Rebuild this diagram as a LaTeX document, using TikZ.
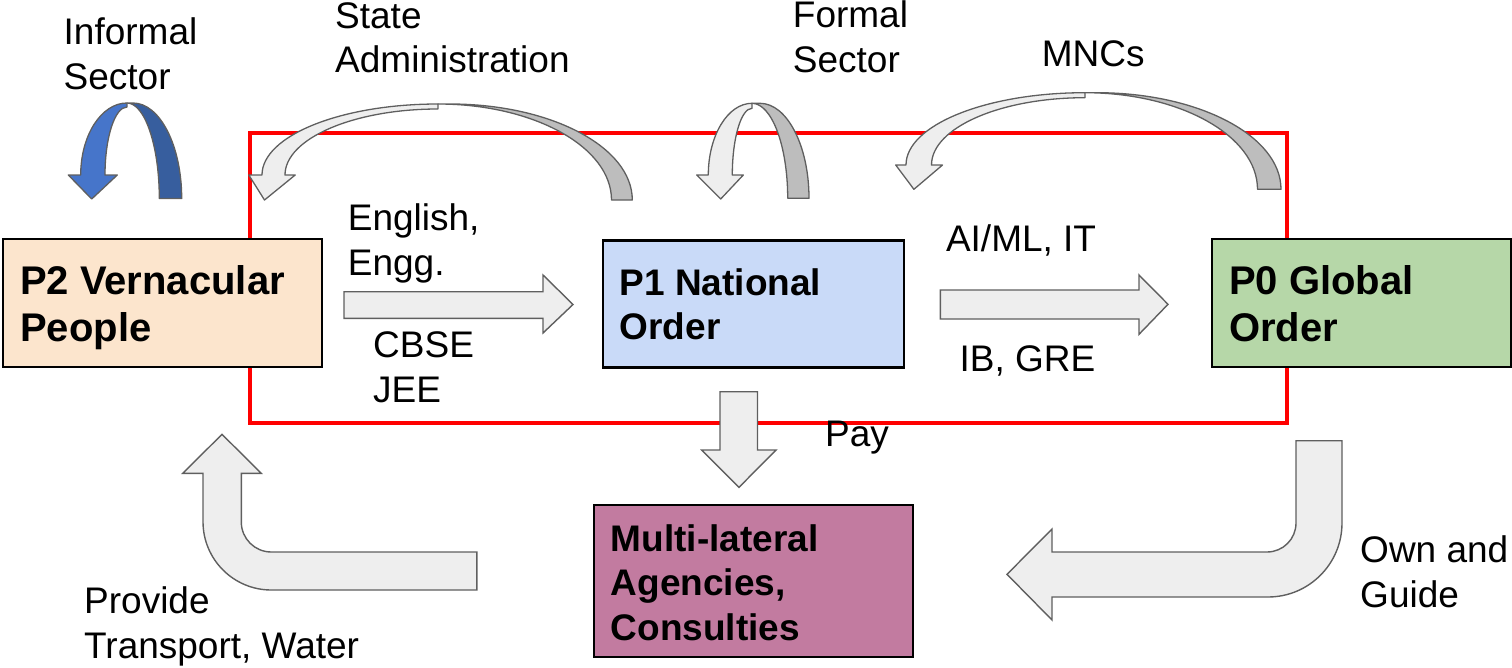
\documentclass[tikz,border=0pt]{standalone}
\usepackage{fontspec}
\setmainfont{Liberation Sans}

\definecolor{peach}{HTML}{FCE5CD}
\definecolor{paleblue}{HTML}{C9DAF8}
\definecolor{palegreen}{HTML}{B6D7A8}
\definecolor{mauve}{HTML}{C27BA0}
\definecolor{arrowfill}{HTML}{EEEEEE}
\definecolor{arrowback}{HTML}{BDBDBD}
\definecolor{arrowline}{HTML}{5F5F5F}
\definecolor{bluefront}{HTML}{4675CA}
\definecolor{blueback}{HTML}{375E9E}

% parameters of a curved ribbon arrow (front band with head, back band)
\pgfkeys{/ribbon/.is family}
\pgfkeys{/ribbon/.cd,
  ax/.store in=\rbAx, ay/.store in=\rbAy, dw/.store in=\rbDw, t/.store in=\rbT,
  ro/.store in=\rbRo, ri/.store in=\rbRi, by/.store in=\rbBy,
  lo/.store in=\rbLo, li/.store in=\rbLi, hb/.store in=\rbHb,
  hl/.store in=\rbHl, hr/.store in=\rbHr, tx/.store in=\rbTx, ty/.store in=\rbTy}

\newcommand{\ribbonarrow}[3]{%
  \pgfkeys{/ribbon/.cd,#3}%
  \pgfmathsetmacro\rbK{0.5523}%
  % back band: from the flat foot up to the top
  \draw[ribbonedge, fill=#1]
    (\rbRo,\rbBy) .. controls (\rbRo,{\rbBy-\rbK*(\rbBy-\rbAy)}) and ({\rbAx+\rbDw+\rbK*(\rbRo-\rbAx-\rbDw)},\rbAy) .. ({\rbAx+\rbDw},\rbAy)
    -- (\rbAx,\rbAy) .. controls ({\rbAx+\rbK*(\rbRi-\rbAx)},\rbAy) and (\rbRi,{\rbBy-\rbK*(\rbBy-\rbAy)}) .. (\rbRi,\rbBy) -- cycle;
  % front band: from the top down to the head
  \draw[ribbonedge, fill=#2]
    (\rbLo,\rbHb) .. controls (\rbLo,{\rbHb-\rbK*(\rbHb-\rbAy)}) and ({\rbAx-\rbK*(\rbAx-\rbLo)},\rbAy) .. (\rbAx,\rbAy)
    -- (\rbAx,{\rbAy+\rbT}) .. controls ({\rbAx-\rbK*(\rbAx-\rbLi)},{\rbAy+\rbT}) and (\rbLi,{\rbHb-\rbK*(\rbHb-\rbAy-\rbT)}) .. (\rbLi,\rbHb)
    -- (\rbHr,\rbHb) -- (\rbTx,\rbTy) -- (\rbHl,\rbHb) -- cycle;
}

\begin{document}
\begin{tikzpicture}[x=1pt,y=-1pt,
  box/.style={draw=black, line width=2.2pt, rectangle, inner sep=0pt},
  boxtext/.style={anchor=base west, inner sep=0pt, align=left,
    font=\fontsize{40}{47}\selectfont\bfseries},
  smallboxtext/.style={boxtext, font=\fontsize{37}{44.5}\selectfont\bfseries},
  lbl/.style={anchor=base west, inner sep=0pt, align=left,
    font=\fontsize{37}{44.5}\selectfont},
  blockarrow/.style={fill=arrowfill, draw=arrowline, line width=1.4pt, line join=miter},
  ribbonedge/.style={draw=arrowline, line width=1.3pt, line join=round},
  boundary/.style={draw=red, line width=3.2pt}
]
\useasboundingbox (0,0) rectangle (1512,667);

% boundary of the formal system
\draw[boundary] (250,133) rectangle (1287,423);

% curved ribbon arrows above the boxes
\ribbonarrow{blueback}{bluefront}{ax=127, ay=103, dw=6, t=4, ro=181.7, ri=159.3, by=198.5,
  lo=80.7, li=105, hb=175, hl=68.3, hr=117.3, tx=91.7, ty=199}
\ribbonarrow{arrowback}{arrowfill}{ax=438, ay=104, dw=12, t=5, ro=632.3, ri=611.5, by=200,
  lo=262, li=285, hb=175, hl=248.8, hr=295.2, tx=264.5, ty=200}
\ribbonarrow{arrowback}{arrowfill}{ax=752, ay=103.3, dw=8, t=5, ro=809, ri=787.7, by=198.3,
  lo=708.3, li=732.3, hb=175, hl=696.7, hr=743.3, tx=720.7, ty=199}
\ribbonarrow{arrowback}{arrowfill}{ax=1085, ay=92.7, dw=12, t=5, ro=1281, ri=1257.5, by=189.3,
  lo=906, li=931.5, hb=165, hl=895.7, hr=942.5, tx=913.9, ty=189.3}

% boxes
\node[box, fill=peach, minimum width=319pt, minimum height=127.4pt] (p2) at (162.5,303) {};
\node[box, fill=paleblue, minimum width=301pt, minimum height=127pt] (p1) at (753.5,304) {};
\node[box, fill=palegreen, minimum width=299pt, minimum height=128pt] (p0) at (1361.5,303) {};
\node[box, fill=mauve, minimum width=319pt, minimum height=151.7pt] (mla) at (753.5,580.8) {};

% box titles (anchored at the baseline of their last line)
\node[boxtext] (p2t) at (20,341) {P2 Vernacular\\People};
\node[smallboxtext, font=\fontsize{37}{43.5}\selectfont\bfseries] (p1t) at (619.5,339) {P1 National\\Order};
\node[boxtext] (p0t) at (1229,341) {P0 Global\\Order};
\node[smallboxtext] (mlat) at (610.5,640) {Multi-lateral\\Agencies,\\Consulties};

% straight block arrows
\draw[blockarrow] (344,291.7) -- (543,291.7) -- (543,275) -- (573,304.5) -- (543,333)
  -- (543,318.3) -- (344,318.3) -- cycle;
\draw[blockarrow] (940.3,290) -- (1139,290) -- (1139,275) -- (1168,304.3) -- (1139,334.3)
  -- (1139,319) -- (940.3,319) -- cycle;
\draw[blockarrow] (720,391.7) -- (757.5,391.7) -- (757.5,450) -- (776,450) -- (739,487.3)
  -- (701.7,450) -- (720,450) -- cycle;

% bent block arrows
\draw[blockarrow] (222,434.3) -- (261.2,473.3) -- (241.3,473.3) -- (241.3,522)
  arc[start angle=180, end angle=90, radius=30] -- (476.8,552) -- (476.8,590) -- (271.3,590)
  arc[start angle=90, end angle=180, radius=68.3] -- (203,473.3) -- (182.8,473.3) -- cycle;
\draw[blockarrow] (1296,440.7) -- (1342,440.7) -- (1342,523)
  arc[start angle=0, end angle=90, radius=74] -- (1052,597) -- (1052,620) -- (1007,574.3)
  -- (1052,529) -- (1052,552) -- (1267,552) arc[start angle=90, end angle=0, radius=29] -- cycle;

% labels (anchored at the baseline of their last line)
\node[lbl] (informal) at (63.5,89) {Informal\\Sector};
\node[lbl] (state) at (335,72.7) {State\\Administration};
\node[lbl] (formal) at (792.7,72) {Formal\\Sector};
\node[lbl] (mncs) at (1041.7,66) {MNCs};
\node[lbl] (english) at (347.7,275) {English,\\Engg.};
\node[lbl] (cbse) at (373,402) {CBSE\\JEE};
\node[lbl] (aiml) at (945.8,251.7) {AI/ML, IT};
\node[lbl] (ibgre) at (959.5,371.7) {IB, GRE};
\node[lbl] (pay) at (825,446.7) {Pay};
\node[lbl] (own) at (1360,607) {Own and\\Guide};
\node[lbl] (provide) at (84,658) {Provide\\Transport, Water};
\end{tikzpicture}
\end{document}
